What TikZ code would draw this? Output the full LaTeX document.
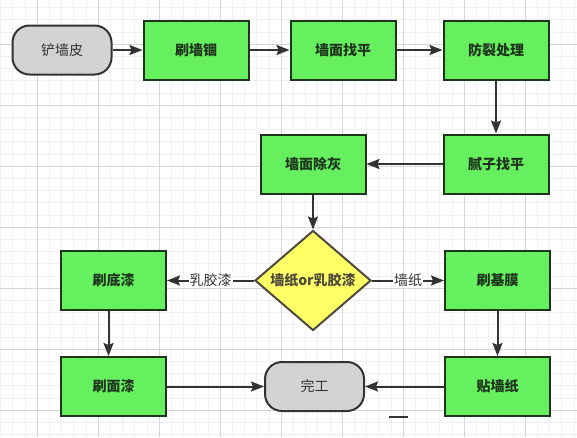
\documentclass[tikz,border=0pt]{standalone}
\usepackage{fontspec}
\newfontfamily\cjk{Noto Sans CJK SC}
\usetikzlibrary{arrows.meta,positioning,shapes.geometric}
\definecolor{boxgreen}{RGB}{102,240,96}
\definecolor{boxedge}{RGB}{30,52,28}
\definecolor{termgray}{RGB}{211,211,211}
\definecolor{askyellow}{RGB}{255,255,102}
\definecolor{linegray}{RGB}{51,51,51}

\begin{document}
\begin{tikzpicture}[x=1pt,y=1pt,>={Stealth[length=13pt,width=10pt,inset=2pt]},
  every node/.style={font=\cjk\fontsize{14pt}{16pt}\selectfont},
  box/.style={draw=boxedge,line width=2pt,fill=boxgreen,minimum width=105pt,minimum height=59pt,inner sep=0pt,text=boxedge,font=\cjk\bfseries\fontsize{14pt}{16pt}\selectfont},
  term/.style={draw=linegray,line width=2pt,fill=termgray,rounded corners=17pt,minimum width=99pt,minimum height=49pt,inner sep=0pt,text=linegray},
  ask/.style={draw=black!80!yellow,line width=2pt,fill=askyellow,diamond,aspect=1.16,minimum width=116pt,minimum height=100pt,inner sep=0pt,text=black!80!yellow,font=\cjk\bfseries\fontsize{14pt}{16pt}\selectfont},
  lbl/.style={fill=white,inner sep=1pt,text=linegray},
  flow/.style={->,draw=linegray,line width=2pt}]
\useasboundingbox (0,0) rectangle (577,-437);
\fill[white] (0,0) rectangle (577,-437);
% grid
\foreach \i in {0,...,49} {
  \draw[black!6,line width=0.6pt] (-24+12.2*\i,0) -- (-24+12.2*\i,-437);
  \draw[black!6,line width=0.6pt] (0,-44+61-12.2*\i) -- (577,-44+61-12.2*\i);
}
\foreach \i in {0,...,9} {
  \draw[black!16,line width=0.6pt] (-24+61*\i,0) -- (-24+61*\i,-437);
  \draw[black!16,line width=0.6pt] (0,17-61*\i) -- (577,17-61*\i);
}

\node[term] (pee) at (62,-50) {铲墙皮};
\node[box,right=30pt of pee] (shua) {刷墙锢};
\node[box,right=40pt of shua] (zhaoping) {墙面找平};
\node[box,right=46pt of zhaoping] (fanglie) {防裂处理};
\node[box,below=53pt of fanglie] (nizi) {腻子找平};
\node[box,left=76pt of nizi] (chuhui) {墙面除灰};
\node[ask,below=35pt of chuhui] (pick) {墙纸or乳胶漆};
\node[box,left=87pt of pick] (didi) {刷底漆};
\node[box,right=72pt of pick] (jimo) {刷基膜};
\node[box,below=45pt of didi] (mianqi) {刷面漆};
\node[box,below=45pt of jimo] (tie) {贴墙纸};
\node[term,left=79pt of tie] (done) {完工};

\draw[flow] (pee) -- (shua);
\draw[flow] (shua) -- (zhaoping);
\draw[flow] (zhaoping) -- (fanglie);
\draw[flow] (fanglie) -- (nizi);
\draw[flow] (nizi) -- (chuhui);
\draw[flow] (chuhui) -- (pick);
\draw[flow] (pick) -- node[lbl]{乳胶漆} (didi);
\draw[flow] (pick) -- node[lbl]{墙纸} (jimo);
\draw[flow] ([xshift=-5pt]didi.south) -- ([xshift=-5pt]mianqi.north);
\draw[flow] (jimo) -- (tie);
\draw[flow] (mianqi) -- (done);
\draw[flow] (tie) -- (done);
\draw[linegray,line width=1.5pt] (389,-417) -- (408,-417);
\end{tikzpicture}
\end{document}
